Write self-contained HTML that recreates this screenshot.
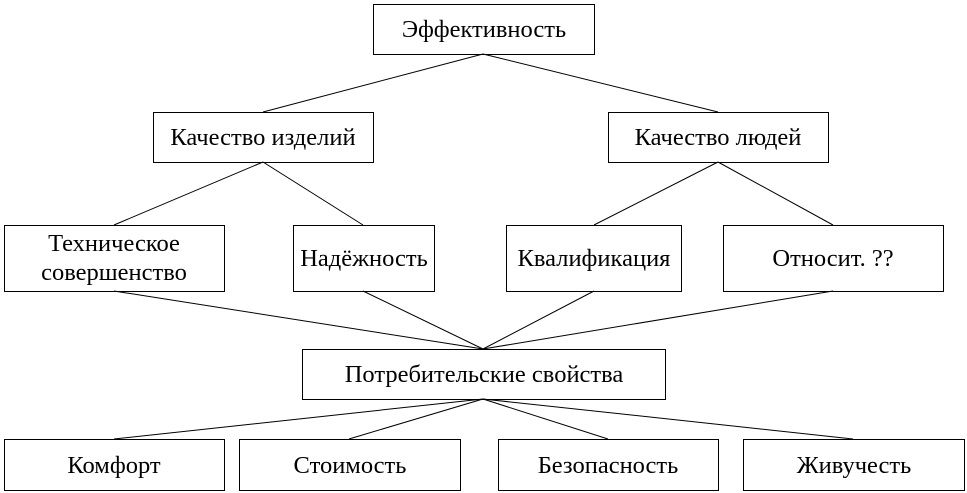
<!DOCTYPE html>
<html><head><meta charset="utf-8"><style>body{margin:0;background:#fff}svg{display:block}text{font-family:"Liberation Serif",serif;font-size:24.5px;fill:#000}</style></head><body>
<svg width="967" height="493" xmlns="http://www.w3.org/2000/svg">
<g fill="#fff" stroke="#000" stroke-width="1">
<rect x="373.5" y="4.5" width="221" height="50"/>
<rect x="153.5" y="112.5" width="220" height="50"/>
<rect x="608.5" y="112.5" width="220" height="50"/>
<rect x="4.5" y="225.5" width="220" height="66"/>
<rect x="293.5" y="225.5" width="141" height="66"/>
<rect x="506.5" y="225.5" width="175" height="66"/>
<rect x="723.5" y="225.5" width="220" height="66"/>
<rect x="302.5" y="349.5" width="363" height="50"/>
<rect x="4.5" y="439.5" width="220" height="51"/>
<rect x="239.5" y="439.5" width="221" height="51"/>
<rect x="498.5" y="439.5" width="220" height="51"/>
<rect x="743.5" y="439.5" width="221" height="51"/>
</g>
<g stroke="#000" stroke-width="1">
<line x1="483" y1="54" x2="263" y2="112"/><line x1="483" y1="54" x2="718" y2="112"/>
<line x1="263" y1="162" x2="114" y2="225"/><line x1="263" y1="162" x2="363" y2="225"/>
<line x1="718" y1="162" x2="594" y2="225"/><line x1="718" y1="162" x2="833" y2="225"/>
<line x1="114" y1="291" x2="483" y2="349"/><line x1="363" y1="291" x2="483" y2="349"/>
<line x1="594" y1="291" x2="483" y2="349"/><line x1="833" y1="291" x2="483" y2="349"/>
<line x1="483" y1="399" x2="114" y2="439"/><line x1="483" y1="399" x2="349" y2="439"/>
<line x1="483" y1="399" x2="608" y2="439"/><line x1="483" y1="399" x2="853" y2="439"/>
</g>
<g text-anchor="middle">
<text x="484" y="37">Эффективность</text>
<text x="263" y="145">Качество изделий</text>
<text x="718" y="145">Качество людей</text>
<text x="114" y="251">Техническое</text>
<text x="114" y="280">совершенство</text>
<text x="364" y="266">Надёжность</text>
<text x="594" y="266">Квалификация</text>
<text x="833" y="266">Относит. ??</text>
<text x="484" y="382">Потребительские свойства</text>
<text x="114" y="473">Комфорт</text>
<text x="350" y="473">Стоимость</text>
<text x="608" y="473">Безопасность</text>
<text x="854" y="473">Живучесть</text>
</g>
</svg>
</body></html>
